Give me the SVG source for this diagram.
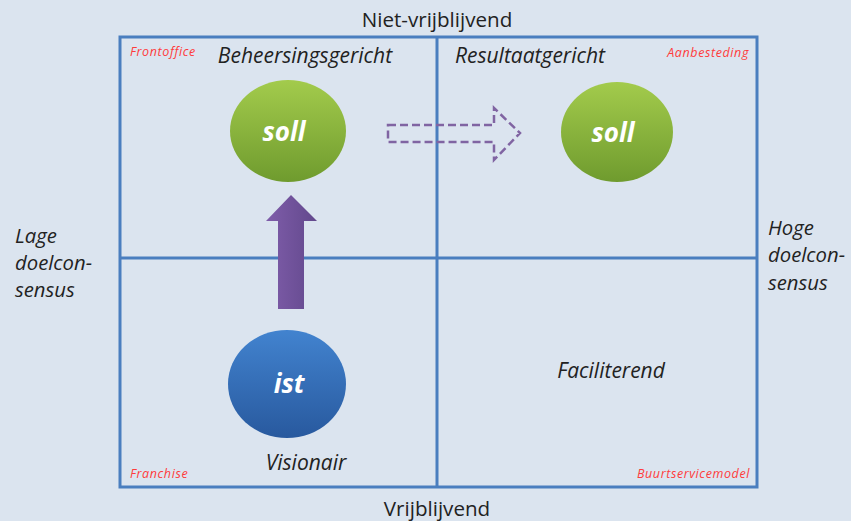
<svg xmlns="http://www.w3.org/2000/svg" width="851" height="521" viewBox="0 0 851 521">
<defs>
<linearGradient id="gGreen" x1="0" y1="0" x2="0" y2="1"><stop offset="0" stop-color="#a3cb4c"/><stop offset="1" stop-color="#6f9b2e"/></linearGradient>
<linearGradient id="gBlue" x1="0" y1="0" x2="0" y2="1"><stop offset="0" stop-color="#4283cf"/><stop offset="1" stop-color="#28599e"/></linearGradient>
<linearGradient id="gPurple" x1="0" y1="0" x2="1" y2="0"><stop offset="0" stop-color="#7f5daa"/><stop offset="1" stop-color="#62488c"/></linearGradient>
<style>
.t{font-family:"Open Sans","Liberation Sans",Arial,sans-serif;fill:#222}
.i{font-style:italic}
.h{font-size:21px}
.s{font-size:20.3px}
.red{font-family:"Open Sans","Liberation Sans",Arial,sans-serif;font-style:italic;font-size:12.5px;letter-spacing:0.6px;fill:#ff3b3b}
.w{font-family:"Open Sans","Liberation Sans",Arial,sans-serif;font-style:italic;font-weight:bold;font-size:26px;fill:#fff}
.ln{stroke:#4a7ebf;stroke-width:3;fill:none}
</style>
</defs>
<rect width="851" height="521" fill="#dbe4ef"/>
<g id="grid">
<rect class="ln" x="120" y="37" width="637" height="450"/>
<line class="ln" x1="437" y1="37" x2="437" y2="487"/>
<line class="ln" x1="120" y1="258" x2="757" y2="258"/>
</g>
<g id="axis-labels">
<text class="t" x="437" y="27" font-size="20.6" text-anchor="middle">Niet-vrijblijvend</text>
<text class="t" x="437" y="516" font-size="20.6" text-anchor="middle">Vrijblijvend</text>
<text class="t i s" x="15" y="243">Lage</text>
<text class="t i s" x="15" y="270">doelcon-</text>
<text class="t i s" x="15" y="297">sensus</text>
<text class="t i s" x="768" y="235">Hoge</text>
<text class="t i s" x="768" y="262">doelcon-</text>
<text class="t i s" x="768" y="290">sensus</text>
</g>
<g id="quadrant-labels">
<text class="t i h" x="305" y="63" text-anchor="middle">Beheersingsgericht</text>
<text class="t i h" x="530" y="63" text-anchor="middle">Resultaatgericht</text>
<text class="t i h" x="611" y="378" text-anchor="middle">Faciliterend</text>
<text class="t i h" x="306" y="470" text-anchor="middle">Visionair</text>
<text class="red" x="130" y="56">Frontoffice</text>
<text class="red" x="749" y="57" text-anchor="end">Aanbesteding</text>
<text class="red" x="130" y="478">Franchise</text>
<text class="red" x="750" y="478" text-anchor="end">Buurtservicemodel</text>
</g>
<g id="soll-left">
<ellipse cx="288" cy="131" rx="58" ry="51" fill="url(#gGreen)"/>
<text class="w" x="284" y="141" text-anchor="middle">soll</text>
</g>
<g id="soll-right">
<ellipse cx="617" cy="132" rx="56" ry="50" fill="url(#gGreen)"/>
<text class="w" x="613" y="142" text-anchor="middle">soll</text>
</g>
<g id="ist">
<ellipse cx="287" cy="384" rx="59" ry="54" fill="url(#gBlue)"/>
<text class="w" x="289" y="393" text-anchor="middle">ist</text>
</g>
<g id="connectors">
<polygon points="278,309 278,221 266,221 291,195 317,221 304,221 304,309" fill="url(#gPurple)"/>
<polygon points="388,125 494,125 494,108 520,133 494,160 494,142 388,142" fill="none" stroke="#8064a2" stroke-width="2.5" stroke-dasharray="8,4"/>
</g>
</svg>
